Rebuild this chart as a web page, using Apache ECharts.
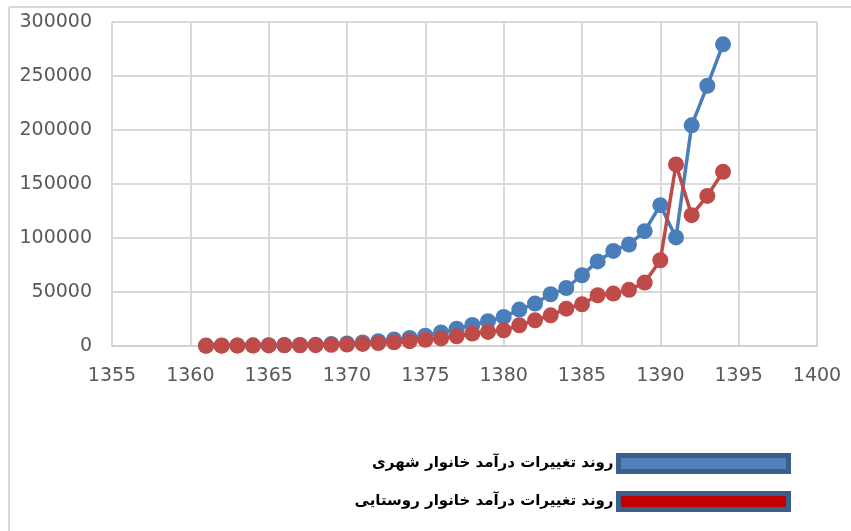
<!DOCTYPE html>
<html>
<head>
<meta charset="utf-8">
<script src="https://cdn.jsdelivr.net/npm/echarts@6/dist/echarts.min.js"></script>
<style>
  html, body { margin: 0; padding: 0; background: #fff; }
  #chart { width: 851px; height: 531px; }
</style>
</head>
<body>
<div id="chart"></div>
<script>
var years = [1361, 1362, 1363, 1364, 1365, 1366, 1367, 1368, 1369, 1370,
             1371, 1372, 1373, 1374, 1375, 1376, 1377, 1378, 1379, 1380,
             1381, 1382, 1383, 1384, 1385, 1386, 1387, 1388, 1389, 1390,
             1391, 1392, 1393, 1394];
var urban = [400, 450, 550, 650, 800, 900, 1000, 1200, 1800, 2300,
             3300, 4500, 6000, 7500, 9500, 12500, 16000, 19500, 22900, 26900,
             33700, 39300, 47900, 53700, 65500, 78300, 88000, 94000, 106300, 130400,
             100500, 204300, 241000, 279300];
var rural = [250, 300, 350, 400, 500, 600, 700, 800, 1100, 1400,
             1900, 2700, 3500, 4500, 5700, 7000, 9000, 11500, 13000, 14500,
             19200, 23800, 28400, 34600, 38600, 47000, 48500, 52000, 58700, 79400,
             168100, 121100, 139000, 161300];
var urbanName = 'روند تغییرات درآمد خانوار شهری';
var ruralName = 'روند تغییرات درآمد خانوار روستایی';

function pairs(xs, ys) {
  return xs.map(function (x, i) { return [x, ys[i]]; });
}

var chart = echarts.init(document.getElementById('chart'));
var labelStyle = {
  fontFamily: 'DejaVu Sans', fontSize: 19, color: '#595959',
  formatter: function (v) { return String(v); }
};
var gridLine = { show: true, lineStyle: { color: '#D9D9D9', width: 2 } };

var option = {
  animation: false,
  // outer chart frame (only top and left edges show in the picture)
  graphic: [{
    type: 'line',
    shape: { x1: 9, y1: 7, x2: 851, y2: 7 },
    style: { stroke: '#D9D9D9', lineWidth: 2 }
  }, {
    type: 'line',
    shape: { x1: 9, y1: 7, x2: 9, y2: 531 },
    style: { stroke: '#D9D9D9', lineWidth: 2 }
  }],
  grid: { left: 112, right: 34, top: 22, bottom: 185 },
  xAxis: {
    type: 'value',
    min: 1355,
    max: 1400,
    interval: 5,
    axisLine: { show: true, onZero: false, lineStyle: { color: '#D0D0D0', width: 2 } },
    axisTick: { show: false },
    axisLabel: Object.assign({ margin: 21 }, labelStyle),
    splitLine: gridLine
  },
  yAxis: {
    type: 'value',
    min: 0,
    max: 300000,
    interval: 50000,
    axisLine: { show: false },
    axisTick: { show: false },
    axisLabel: Object.assign({ margin: 20 }, labelStyle),
    splitLine: gridLine
  },
  legend: {
    orient: 'vertical',
    right: 55,
    top: 448,
    align: 'right',
    icon: 'rect',
    itemWidth: 170,
    itemHeight: 16,
    itemGap: 17,
    textStyle: { fontFamily: 'DejaVu Sans', fontWeight: 'bold', fontSize: 15, color: '#000' },
    data: [
      { name: urbanName, itemStyle: { color: '#4F81BD', borderColor: '#3A5F8B', borderWidth: 5 } },
      { name: ruralName, itemStyle: { color: '#C00000', borderColor: '#3A5F8B', borderWidth: 5 } }
    ]
  },
  series: [{
    name: urbanName,
    type: 'line',
    data: pairs(years, urban),
    symbol: 'circle',
    symbolSize: 16,
    itemStyle: { color: '#4A7EBB' },
    lineStyle: { color: '#4A7EBB', width: 3.5 }
  }, {
    name: ruralName,
    type: 'line',
    data: pairs(years, rural),
    symbol: 'circle',
    symbolSize: 16,
    itemStyle: { color: '#BE4B48' },
    lineStyle: { color: '#BE4B48', width: 3.5 }
  }]
};
chart.setOption(option);
</script>
</body>
</html>
